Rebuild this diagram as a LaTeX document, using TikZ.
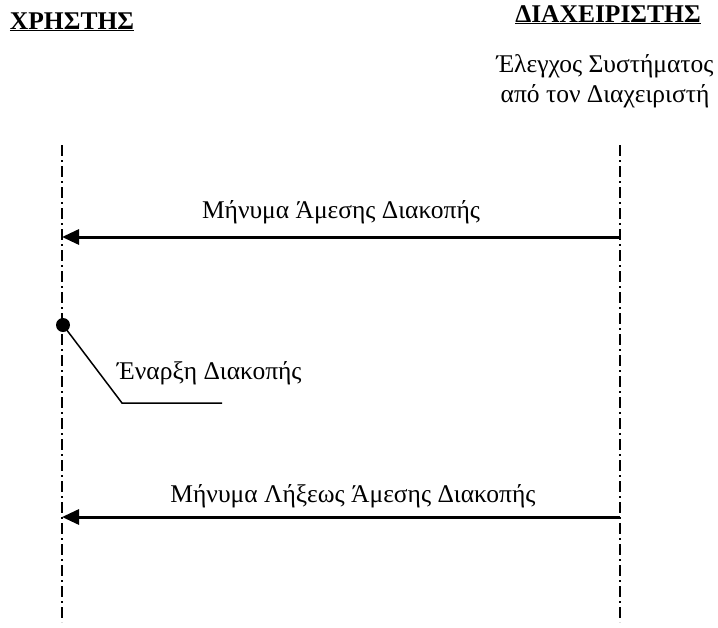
\documentclass[tikz,border=0pt]{standalone}
\usepackage{fontspec}
\setmainfont{Liberation Serif}
\usetikzlibrary{arrows.meta}

\tikzset{
  lifeline/.style={line width=1.8pt, dash pattern=on 11pt off 4pt on 2pt off 4pt},
  msg/.style={line width=3pt, -{Triangle[length=17pt,width=15pt]}},
  txt/.style={font=\fontsize{25.5}{30}\selectfont, inner sep=0pt, anchor=base},
  hdr/.style={txt, font=\fontsize{25.5}{30}\selectfont\bfseries}
}

\begin{document}
\begin{tikzpicture}[x=1pt,y=-1pt]
  \useasboundingbox (0,0) rectangle (718,627);

  % headers
  \node[hdr] (user) at (72,29) {\underline{ΧΡΗΣΤΗΣ}};
  \node[hdr] (admin) at (608,22) {\underline{ΔΙΑΧΕΙΡΙΣΤΗΣ}};
  \node[txt] (check1) at (605,72) {Έλεγχος Συστήματος};
  \node[txt] (check2) at (605,102) {από τον Διαχειριστή};

  % lifelines
  \coordinate (utop) at (62,145);  \coordinate (ubot) at (62,622);
  \coordinate (atop) at (620,145); \coordinate (abot) at (620,622);
  \draw[lifeline] (utop) -- (ubot);
  \draw[lifeline] (atop) -- (abot);

  % messages
  \foreach \y/\nm in {237/stop, 517/end}
  {
    \coordinate (\nm a) at (620,\y);
    \coordinate (\nm u) at (62,\y);
    \draw[msg] (\nm a) -- (\nm u);
  }
  \node[txt] (stoplbl) at (341,218) {Μήνυμα Άμεσης Διακοπής};
  \node[txt] (endlbl) at (353,502) {Μήνυμα Λήξεως Άμεσης Διακοπής};

  % start of interruption
  \fill (63,325) circle (7) coordinate (start);
  \coordinate (bend) at (122,403);
  \coordinate (tail) at (222,403);
  \draw[line width=1.5pt] (start) -- (bend) -- (tail);
  \node[txt, anchor=base west] (startlbl) at (117,379) {Έναρξη Διακοπής};

\end{tikzpicture}
\end{document}
